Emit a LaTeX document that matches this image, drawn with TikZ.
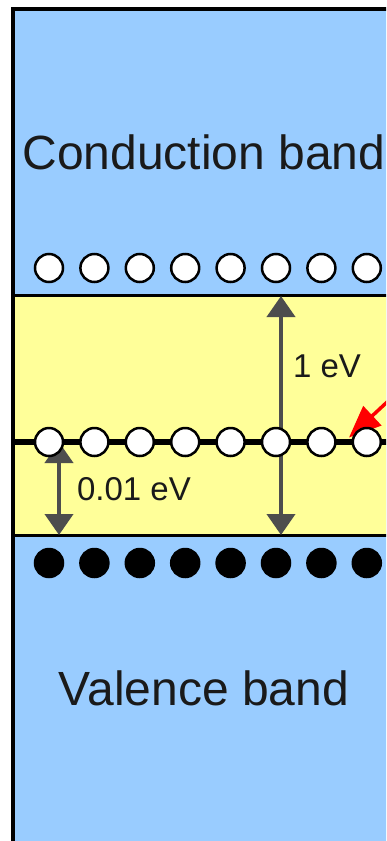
\documentclass[tikz,border=0pt]{standalone}
\usepackage{fontspec}
\setmainfont{Liberation Sans}
\usetikzlibrary{arrows.meta}
\definecolor{bandblue}{HTML}{99CCFF}
\definecolor{gapyellow}{HTML}{FFFF99}
\definecolor{arrgray}{HTML}{4D4D4D}
\definecolor{txt}{HTML}{1A1A1A}
\begin{document}
\begin{tikzpicture}[x=1pt,y=-1pt,
  hole/.style={circle,draw=black,fill=white,line width=2.5pt,minimum size=28pt,inner sep=0pt},
  electron/.style={circle,draw=black,fill=black,line width=2.5pt,minimum size=28pt,inner sep=0pt},
  bigtext/.style={text=txt,font=\fontsize{48}{57}\selectfont,inner sep=0pt},
  smalltext/.style={text=txt,font=\fontsize{33}{39}\selectfont,inner sep=0pt},
  gaparrow/.style={draw=arrgray,line width=4pt,{Triangle[width=28pt,length=21pt]}-{Triangle[width=28pt,length=21pt]}},
  pointer/.style={draw=red,line width=3.5pt,-{Triangle[width=26pt,length=32pt]}}
]
\useasboundingbox (0,0) rectangle (386,841);
\clip (0,0) rectangle (386,841);
% bands
\fill[bandblue] (13,8.5) rectangle (400,860);
\fill[gapyellow] (13,295.5) rectangle (400,535.5);
\draw[line width=3pt] (13,295.5) -- (400,295.5);
\draw[line width=3pt] (13,535.5) -- (400,535.5);
\draw[line width=6.5pt] (13,442) -- (400,442);
\draw[line width=4pt] (13,860) -- (13,8.5) -- (400,8.5);
% coordinates for arrows
\coordinate (gt) at (281,296);
\coordinate (gb) at (281,535);
\coordinate (dt) at (59,442);
\coordinate (db) at (59,535);
\coordinate (rs) at (400,390);
\coordinate (rt) at (349,437.5);
\draw[gaparrow] (gt) -- (gb);
\draw[gaparrow] (dt) -- (db);
\draw[pointer] (rs) -- (rt);
% circles
\foreach \i in {1,...,8}{
  \pgfmathsetmacro{\xx}{49+(\i-1)*45.4}
  \node[hole] (c\i) at (\xx,268) {};
  \node[hole] (d\i) at (\xx,442) {};
  \node[electron] (v\i) at (\xx,563) {};
}
% labels
\node[bigtext] (cb) at (204,152) {Conduction band};
\node[bigtext] (vb) at (204,688) {Valence band};
\node[smalltext] (one) at (327,366) {1 eV};
\node[smalltext] (small) at (134,489) {0.01 eV};
\end{tikzpicture}
\end{document}
